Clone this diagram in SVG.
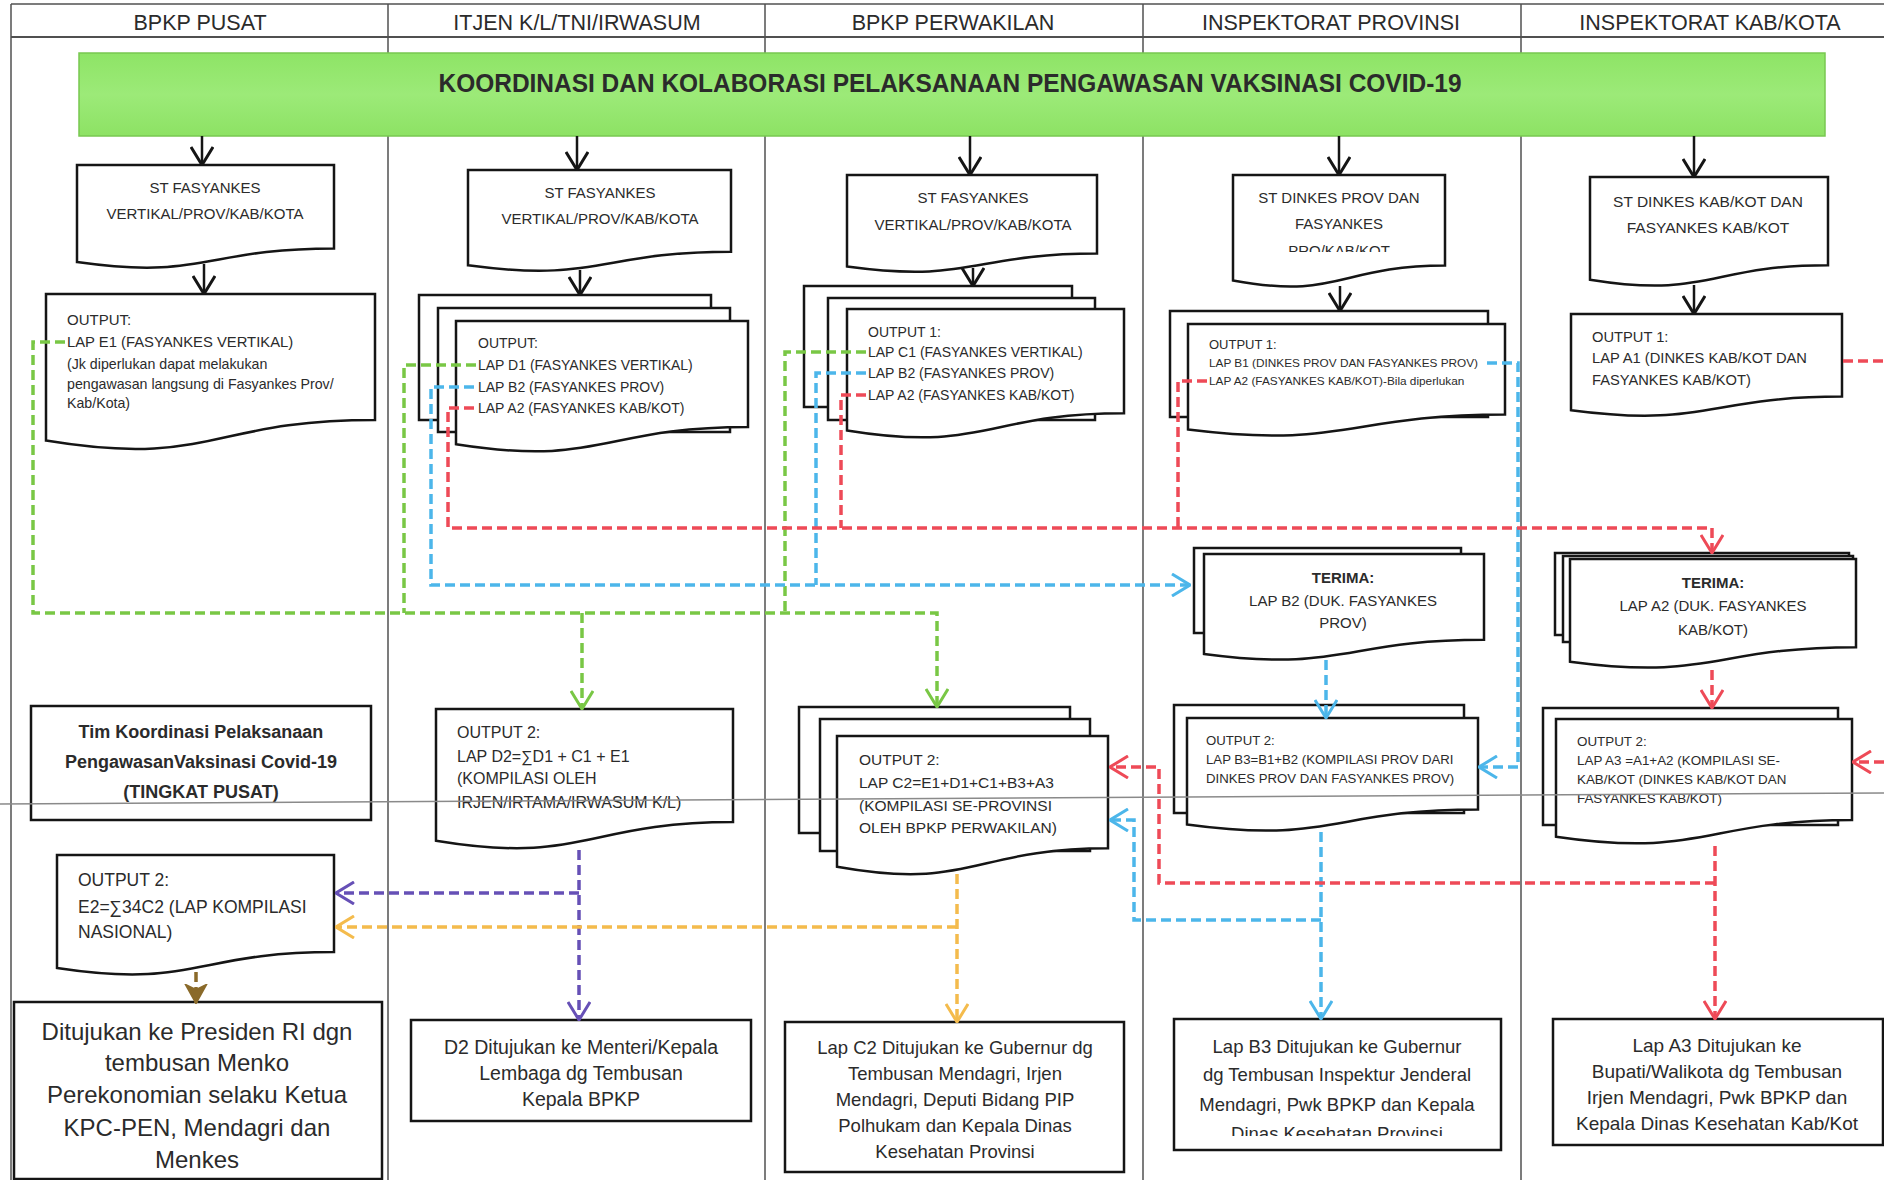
<svg xmlns="http://www.w3.org/2000/svg" width="1884" height="1180" viewBox="0 0 1884 1180">
<style>
.lane{stroke:#505050;stroke-width:1.5;fill:none}
.box{fill:#fff;stroke:#151515;stroke-width:2.5}
.t{font-family:"Liberation Sans",Arial,sans-serif;fill:#2b2b2b}
.c{text-anchor:middle}
.b{font-weight:bold}
.arr{fill:none;stroke:#151515;stroke-width:2.5}
.d{fill:none;stroke-width:3.5;stroke-dasharray:10 5}
.gr{stroke:#79c745}.bl{stroke:#4cb6ea}.rd{stroke:#ee4a57}.pu{stroke:#6650b6}.or{stroke:#f4bb4c}.br{stroke:#8a6a2a}
</style>
<defs>
<linearGradient id="gbar" x1="0" y1="0" x2="0" y2="1"><stop offset="0" stop-color="#8ee466"/><stop offset="0.5" stop-color="#9cea78"/><stop offset="1" stop-color="#8de264"/></linearGradient>
<marker id="mk" viewBox="0 0 20 24" refX="19" refY="12" markerWidth="20" markerHeight="24" orient="auto" markerUnits="userSpaceOnUse"><path d="M1,1 L19,12 L1,23" fill="none" stroke="#151515" stroke-width="3"/></marker>
<marker id="mg" viewBox="0 0 20 24" refX="19" refY="12" markerWidth="20" markerHeight="24" orient="auto" markerUnits="userSpaceOnUse"><path d="M1,1 L19,12 L1,23" fill="none" stroke="#79c745" stroke-width="3"/></marker>
<marker id="mb" viewBox="0 0 20 24" refX="19" refY="12" markerWidth="20" markerHeight="24" orient="auto" markerUnits="userSpaceOnUse"><path d="M1,1 L19,12 L1,23" fill="none" stroke="#4cb6ea" stroke-width="3"/></marker>
<marker id="mr" viewBox="0 0 20 24" refX="19" refY="12" markerWidth="20" markerHeight="24" orient="auto" markerUnits="userSpaceOnUse"><path d="M1,1 L19,12 L1,23" fill="none" stroke="#ee4a57" stroke-width="3"/></marker>
<marker id="mp" viewBox="0 0 20 24" refX="19" refY="12" markerWidth="20" markerHeight="24" orient="auto" markerUnits="userSpaceOnUse"><path d="M1,1 L19,12 L1,23" fill="none" stroke="#6650b6" stroke-width="3"/></marker>
<marker id="mo" viewBox="0 0 20 24" refX="19" refY="12" markerWidth="20" markerHeight="24" orient="auto" markerUnits="userSpaceOnUse"><path d="M1,1 L19,12 L1,23" fill="none" stroke="#f4bb4c" stroke-width="3"/></marker>
<marker id="mn" viewBox="0 0 20 24" refX="19" refY="12" markerWidth="20" markerHeight="24" orient="auto" markerUnits="userSpaceOnUse"><path d="M1,2 L19,12 L1,22 L6,12 Z" fill="#8a6a2a" stroke="#8a6a2a" stroke-width="2"/></marker>
<clipPath id="clipST4"><rect x="1233" y="175" width="212" height="77"/></clipPath>
<clipPath id="clipB3"><rect x="1174" y="1019" width="327" height="117"/></clipPath>
</defs>
<rect x="0" y="0" width="1884" height="1180" fill="#fff"/>

<g id="lanes" class="lane">
<line x1="11" y1="4" x2="1884" y2="4"/>
<line x1="11" y1="37" x2="1884" y2="37" stroke-width="2"/>
<line x1="11" y1="4" x2="11" y2="1180"/>
<line x1="388" y1="4" x2="388" y2="1180"/>
<line x1="765" y1="4" x2="765" y2="1180"/>
<line x1="1143" y1="4" x2="1143" y2="1180"/>
<line x1="1521" y1="4" x2="1521" y2="1180"/>
</g>
<g id="headers">
<text class="t c" font-size="21.5" x="200" y="30">BPKP PUSAT</text>
<text class="t c" font-size="21.5" x="577" y="30">ITJEN K/L/TNI/IRWASUM</text>
<text class="t c" font-size="21.5" x="953" y="30">BPKP PERWAKILAN</text>
<text class="t c" font-size="21.5" x="1331" y="30">INSPEKTORAT PROVINSI</text>
<text class="t c" font-size="21.5" x="1710" y="30">INSPEKTORAT KAB/KOTA</text>
</g>

<g id="title">
<rect x="79" y="53" width="1746" height="83" fill="url(#gbar)" stroke="#78c850" stroke-width="1.5"/>
<text class="t b c" x="950" y="92" font-size="25" textLength="1023" lengthAdjust="spacingAndGlyphs" fill="#1a1a1a">KOORDINASI DAN KOLABORASI PELAKSANAAN PENGAWASAN VAKSINASI COVID-19</text>
</g>

<!-- Column 1 -->
<g id="st-pusat">
<path class="box" d="M77,165 H334 V248.4 C205.5,248.4 205.5,280.2 77,262.1 Z"/>
<text class="t c" font-size="15" x="205" y="193">ST FASYANKES</text>
<text class="t c" font-size="15" x="205" y="219">VERTIKAL/PROV/KAB/KOTA</text>
</g>
<g id="out-e1">
<path class="box" d="M46,294 H375 V419.9 C210.5,419.9 210.5,467.9 46,440.6 Z"/>
<text class="t" font-size="15" x="67" y="325">OUTPUT:</text>
<text class="t" font-size="14.8" x="67" y="347">LAP E1 (FASYANKES VERTIKAL)</text>
<text class="t" font-size="14.2" x="67" y="369">(Jk diperlukan dapat melakukan</text>
<text class="t" font-size="14.2" x="67" y="389">pengawasan langsung di Fasyankes Prov/</text>
<text class="t" font-size="14.2" x="67" y="408">Kab/Kota)</text>
</g>
<g id="tim-koordinasi">
<rect class="box" x="31" y="706" width="340" height="114"/>
<text class="t b c" font-size="18" x="201" y="738">Tim Koordinasi Pelaksanaan</text>
<text class="t b c" font-size="18" x="201" y="768">PengawasanVaksinasi Covid-19</text>
<text class="t b c" font-size="18" x="201" y="798">(TINGKAT PUSAT)</text>
</g>
<g id="out-e2">
<path class="box" d="M57,855 H334 V952 C195.5,952 195.5,989 57,968 Z"/>
<text class="t" font-size="17.5" x="78" y="886">OUTPUT 2:</text>
<text class="t" font-size="17.5" x="78" y="913">E2=∑34C2 (LAP KOMPILASI</text>
<text class="t" font-size="17.5" x="78" y="938">NASIONAL)</text>
</g>
<g id="tujuan-presiden">
<rect class="box" x="14" y="1002" width="368" height="177"/>
<text class="t c" font-size="24" x="197" y="1040">Ditujukan ke Presiden RI dgn</text>
<text class="t c" font-size="24" x="197" y="1071">tembusan Menko</text>
<text class="t c" font-size="24" x="197" y="1103">Perekonomian selaku Ketua</text>
<text class="t c" font-size="24" x="197" y="1136">KPC-PEN, Mendagri dan</text>
<text class="t c" font-size="24" x="197" y="1168">Menkes</text>
</g>

<!-- Column 2 -->
<g id="st-itjen">
<path class="box" d="M468,170 H731 V251.8 C599.5,251.8 599.5,283 468,265.3 Z"/>
<text class="t c" font-size="15" x="600" y="198">ST FASYANKES</text>
<text class="t c" font-size="15" x="600" y="224">VERTIKAL/PROV/KAB/KOTA</text>
</g>
<g id="out-d1">
<rect class="box" x="419" y="295" width="292" height="125"/>
<rect class="box" x="438" y="308" width="292" height="124"/>
<path class="box" d="M456,321 H748 V426.9 C602,426.9 602,467.2 456,444.3 Z"/>
<text class="t" font-size="14" x="478" y="348">OUTPUT:</text>
<text class="t" font-size="14" x="478" y="370">LAP D1 (FASYANKES VERTIKAL)</text>
<text class="t" font-size="14" x="478" y="392">LAP B2 (FASYANKES PROV)</text>
<text class="t" font-size="14" x="478" y="413">LAP A2 (FASYANKES KAB/KOT)</text>
</g>
<g id="out-d2">
<path class="box" d="M436,709 H733 V822.1 C584.5,822.1 584.5,865.2 436,840.7 Z"/>
<text class="t" font-size="16" x="457" y="738">OUTPUT 2:</text>
<text class="t" font-size="16" x="457" y="762">LAP D2=∑D1 + C1 + E1</text>
<text class="t" font-size="16" x="457" y="784">(KOMPILASI OLEH</text>
<text class="t" font-size="16" x="457" y="808">IRJEN/IRTAMA/IRWASUM K/L)</text>
</g>
<g id="tujuan-d2">
<rect class="box" x="411" y="1020" width="340" height="101"/>
<text class="t c" font-size="19.5" x="581" y="1054">D2 Ditujukan ke Menteri/Kepala</text>
<text class="t c" font-size="19.5" x="581" y="1080">Lembaga dg Tembusan</text>
<text class="t c" font-size="19.5" x="581" y="1106">Kepala BPKP</text>
</g>

<!-- Column 3 -->
<g id="st-perwakilan">
<path class="box" d="M847,175 H1097 V253.6 C972,253.6 972,283.5 847,266.5 Z"/>
<text class="t c" font-size="15" x="973" y="203">ST FASYANKES</text>
<text class="t c" font-size="15" x="973" y="230">VERTIKAL/PROV/KAB/KOTA</text>
</g>
<g id="out-c1">
<rect class="box" x="804" y="286" width="268" height="121"/>
<rect class="box" x="828" y="298" width="267" height="122"/>
<path class="box" d="M847,309 H1124 V413.3 C985.5,413.3 985.5,453 847,430.4 Z"/>
<text class="t" font-size="14" x="868" y="337">OUTPUT 1:</text>
<text class="t" font-size="14" x="868" y="357">LAP C1 (FASYANKES VERTIKAL)</text>
<text class="t" font-size="14" x="868" y="378">LAP B2 (FASYANKES PROV)</text>
<text class="t" font-size="14" x="868" y="400">LAP A2 (FASYANKES KAB/KOT)</text>
</g>
<g id="out-c2">
<rect class="box" x="799" y="707" width="271" height="126"/>
<rect class="box" x="820" y="719" width="270" height="132"/>
<path class="box" d="M837,736 H1108 V848.3 C972.5,848.3 972.5,891 837,866.8 Z"/>
<text class="t" font-size="15.5" x="859" y="765">OUTPUT 2:</text>
<text class="t" font-size="15.5" x="859" y="788">LAP C2=E1+D1+C1+B3+A3</text>
<text class="t" font-size="15.5" x="859" y="811">(KOMPILASI SE-PROVINSI</text>
<text class="t" font-size="15.5" x="859" y="833">OLEH BPKP PERWAKILAN)</text>
</g>
<g id="tujuan-c2">
<rect class="box" x="785" y="1022" width="339" height="150"/>
<text class="t c" font-size="18.5" x="955" y="1054">Lap C2 Ditujukan ke Gubernur dg</text>
<text class="t c" font-size="18.5" x="955" y="1080">Tembusan Mendagri, Irjen</text>
<text class="t c" font-size="18.5" x="955" y="1106">Mendagri, Deputi Bidang PIP</text>
<text class="t c" font-size="18.5" x="955" y="1132">Polhukam dan Kepala Dinas</text>
<text class="t c" font-size="18.5" x="955" y="1158">Kesehatan Provinsi</text>
</g>

<!-- Column 4 -->
<g id="st-prov">
<path class="box" d="M1233,175 H1445 V265.6 C1339,265.6 1339,300.1 1233,280.5 Z"/>
<text class="t c" font-size="15" x="1339" y="203">ST DINKES PROV DAN</text>
<text class="t c" font-size="15" x="1339" y="229">FASYANKES</text>
<text class="t c" font-size="15" x="1339" y="256" clip-path="url(#clipST4)">PRO/KAB/KOT</text>
</g>
<g id="out-b1">
<rect class="box" x="1170" y="311" width="318" height="106"/>
<path class="box" d="M1188,324 H1505 V414.6 C1346.5,414.6 1346.5,449.1 1188,429.5 Z"/>
<text class="t" font-size="13" x="1209" y="349">OUTPUT 1:</text>
<text class="t" font-size="11.8" x="1209" y="367">LAP B1 (DINKES PROV DAN FASYANKES PROV)</text>
<text class="t" font-size="11.8" x="1209" y="385">LAP A2 (FASYANKES KAB/KOT)-Bila diperlukan</text>
</g>
<g id="terima-b2">
<rect class="box" x="1194" y="548" width="267" height="85"/>
<path class="box" d="M1204,554 H1484 V639.8 C1344,639.8 1344,672.5 1204,653.9 Z"/>
<text class="t b c" font-size="15" x="1343" y="583">TERIMA:</text>
<text class="t c" font-size="15" x="1343" y="606">LAP B2 (DUK. FASYANKES</text>
<text class="t c" font-size="15" x="1343" y="628">PROV)</text>
</g>
<g id="out-b3">
<rect class="box" x="1174" y="705" width="290" height="108"/>
<path class="box" d="M1187,718 H1478 V809.4 C1332.5,809.4 1332.5,844.3 1187,824.5 Z"/>
<text class="t" font-size="13.2" x="1206" y="745">OUTPUT 2:</text>
<text class="t" font-size="13.2" x="1206" y="764">LAP B3=B1+B2 (KOMPILASI PROV DARI</text>
<text class="t" font-size="13.2" x="1206" y="783">DINKES PROV DAN FASYANKES PROV)</text>
</g>
<g id="tujuan-b3">
<rect class="box" x="1174" y="1019" width="327" height="131"/>
<text class="t c" font-size="18.5" x="1337" y="1053">Lap B3 Ditujukan ke Gubernur</text>
<text class="t c" font-size="18.5" x="1337" y="1081">dg Tembusan Inspektur Jenderal</text>
<text class="t c" font-size="18.5" x="1337" y="1111">Mendagri, Pwk BPKP dan Kepala</text>
<text class="t c" font-size="18.5" x="1337" y="1140" clip-path="url(#clipB3)">Dinas Kesehatan Provinsi</text>
</g>

<!-- Column 5 -->
<g id="st-kab">
<path class="box" d="M1590,177 H1828 V265.2 C1709,265.2 1709,298.8 1590,279.7 Z"/>
<text class="t c" font-size="15.5" x="1708" y="207">ST DINKES KAB/KOT DAN</text>
<text class="t c" font-size="15.5" x="1708" y="233">FASYANKES KAB/KOT</text>
</g>
<g id="out-a1">
<path class="box" d="M1571,314 H1842 V396.6 C1706.5,396.6 1706.5,428.1 1571,410.2 Z"/>
<text class="t" font-size="14.7" x="1592" y="342">OUTPUT 1:</text>
<text class="t" font-size="14.7" x="1592" y="363">LAP A1 (DINKES KAB/KOT DAN</text>
<text class="t" font-size="14.7" x="1592" y="385">FASYANKES KAB/KOT)</text>
</g>
<g id="terima-a2">
<rect class="box" x="1555" y="553" width="294" height="82"/>
<rect class="box" x="1563" y="556" width="290" height="86"/>
<path class="box" d="M1570,559 H1856 V647.2 C1713,647.2 1713,680.8 1570,661.7 Z"/>
<text class="t b c" font-size="15" x="1713" y="588">TERIMA:</text>
<text class="t c" font-size="15" x="1713" y="611">LAP A2 (DUK. FASYANKES</text>
<text class="t c" font-size="15" x="1713" y="635">KAB/KOT)</text>
</g>
<g id="out-a3">
<rect class="box" x="1543" y="708" width="295" height="117"/>
<path class="box" d="M1556,719 H1852 V820 C1704,820 1704,858.5 1556,836.7 Z"/>
<text class="t" font-size="13.4" x="1577" y="746">OUTPUT 2:</text>
<text class="t" font-size="13.4" x="1577" y="765">LAP A3 =A1+A2 (KOMPILASI SE-</text>
<text class="t" font-size="13.4" x="1577" y="784">KAB/KOT (DINKES KAB/KOT DAN</text>
<text class="t" font-size="13.4" x="1577" y="803">FASYANKES KAB/KOT)</text>
</g>
<g id="tujuan-a3">
<rect class="box" x="1553" y="1019" width="330" height="126"/>
<text class="t c" font-size="19" x="1717" y="1052">Lap A3 Ditujukan ke</text>
<text class="t c" font-size="19" x="1717" y="1078">Bupati/Walikota dg Tembusan</text>
<text class="t c" font-size="19" x="1717" y="1104">Irjen Mendagri, Pwk BPKP dan</text>
<text class="t c" font-size="19" x="1717" y="1130">Kepala Dinas Kesehatan Kab/Kot</text>
</g>

<g id="connectors">
<g class="arr">
<path d="M202,136 V165" marker-end="url(#mk)"/>
<path d="M204,264 V294" marker-end="url(#mk)"/>
<path d="M577,136 V170" marker-end="url(#mk)"/>
<path d="M580,270 V295" marker-end="url(#mk)"/>
<path d="M970,136 V175" marker-end="url(#mk)"/>
<path d="M973,268 V286" marker-end="url(#mk)"/>
<path d="M1339,136 V175" marker-end="url(#mk)"/>
<path d="M1340,286 V311" marker-end="url(#mk)"/>
<path d="M1694,136 V177" marker-end="url(#mk)"/>
<path d="M1694,285 V314" marker-end="url(#mk)"/>
</g>
<g class="d gr">
<path d="M65,342 H33 V613 H937 V707" marker-end="url(#mg)"/>
<path d="M476,365 H404 V613"/>
<path d="M866,352 H785 V613"/>
<path d="M582,613 V709" marker-end="url(#mg)"/>
</g>
<g class="d bl">
<path d="M474,387 H431 V585 H1190" marker-end="url(#mb)"/>
<path d="M866,373 H816 V585"/>
<path d="M1487,363 H1518 V767 H1479" marker-end="url(#mb)"/>
<path d="M1326,660 V718" marker-end="url(#mb)"/>
<path d="M1321,832 V1019" marker-end="url(#mb)"/>
<path d="M1321,920 H1134 V820 H1110" marker-end="url(#mb)"/>
</g>
<g class="d rd">
<path d="M474,408 H448 V528 H1712 V553" marker-end="url(#mr)"/>
<path d="M866,395 H841 V528"/>
<path d="M1207,381 H1178 V528"/>
<path d="M1712,670 V708" marker-end="url(#mr)"/>
<path d="M1715,846 V1019" marker-end="url(#mr)"/>
<path d="M1715,883 H1159 V767 H1110" marker-end="url(#mr)"/>
<path d="M1843,361 H1884"/>
<path d="M1884,762 H1853" marker-end="url(#mr)"/>
</g>
<g class="d pu">
<path d="M579,850 V1020" marker-end="url(#mp)"/>
<path d="M579,893 H336" marker-end="url(#mp)"/>
</g>
<g class="d or">
<path d="M957,874 V1022" marker-end="url(#mo)"/>
<path d="M957,927 H336" marker-end="url(#mo)"/>
</g>
<g class="d br">
<path d="M196,972 V1003" marker-end="url(#mn)"/>
</g>
</g>

<line id="scan-line" x1="0" y1="804" x2="1884" y2="793" stroke="#8a8a8a" stroke-width="1.5"/>
</svg>
